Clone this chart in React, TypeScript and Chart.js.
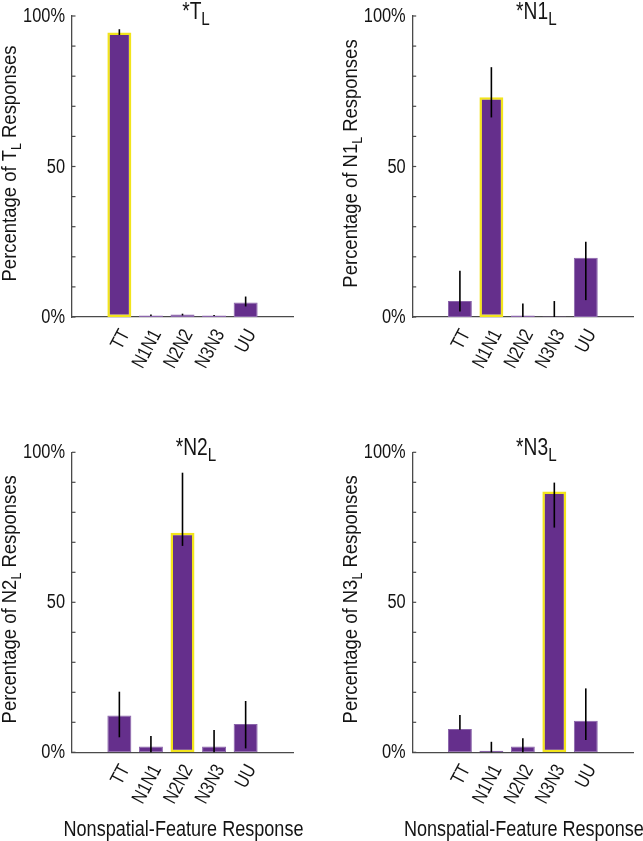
import React, { useEffect, useRef } from 'react';
import { Chart, registerables } from 'chart.js';

Chart.register(...registerables);

// ---------- data ----------
const categories = ['TT', 'N1N1', 'N2N2', 'N3N3', 'UU'];
const yTickValues = [0, 50, 100];
const yTickLabels = ['0%', '50', '100%'];
const xAxisTitle = 'Nonspatial-Feature Response';

// panel *T_L
const tValues = [94.5, 0.5, 0.8, 0.5, 4.8];
const tLow = [93.7, 0.3, 0.5, 0.3, 3.5];
const tHigh = [95.6, 0.8, 1.1, 0.7, 6.8];

// panel *N1_L
const n1Values = [5.3, 73.0, 0.5, 0.2, 19.7];
const n1Low = [1.8, 66.3, 0, 0, 5.6];
const n1High = [15.4, 83.0, 4.5, 5.3, 25.0];

// panel *N2_L
const n2Values = [12.3, 1.9, 73.2, 1.9, 9.4];
const n2Low = [5.0, 0, 68.8, 0, 1.3];
const n2High = [20.2, 5.4, 93.2, 7.4, 17.1];

// panel *N3_L
const n3Values = [7.8, 0.5, 1.9, 86.9, 10.5];
const n3Low = [7.5, 0, 0, 74.9, 4.1];
const n3High = [12.4, 3.5, 4.7, 89.9, 21.3];

const FONT = "'Liberation Sans', Arial, Helvetica, sans-serif";
const BAR_FILL = '#652f8c';
const BAR_EDGE = '#8a64aa';
const HILITE = '#f2e41c';
const AXIS = '#4a4a4a';
const TEXT = '#141414';

type Part = { t: string; sub?: boolean };

function drawParts(
  ctx: CanvasRenderingContext2D,
  parts: Part[],
  size: number,
  subSize: number,
  subShift: number,
  sx: number,
  cx: number,
  baseline: number
) {
  ctx.save();
  ctx.translate(cx, baseline);
  ctx.scale(sx, 1);
  let total = 0;
  for (const p of parts) {
    ctx.font = `${p.sub ? subSize : size}px ${FONT}`;
    total += ctx.measureText(p.t).width;
  }
  let x = -total / 2;
  ctx.textAlign = 'left';
  ctx.textBaseline = 'alphabetic';
  for (const p of parts) {
    ctx.font = `${p.sub ? subSize : size}px ${FONT}`;
    ctx.fillText(p.t, x, p.sub ? subShift : 0);
    x += ctx.measureText(p.t).width;
  }
  ctx.restore();
}

function drawLabel(
  ctx: CanvasRenderingContext2D,
  text: string,
  x: number,
  y: number,
  size: number,
  sx: number,
  align: CanvasTextAlign,
  rotDeg: number
) {
  ctx.save();
  ctx.translate(x, y);
  ctx.rotate((-rotDeg * Math.PI) / 180);
  ctx.scale(sx, 1);
  ctx.font = `${size}px ${FONT}`;
  ctx.textAlign = align;
  ctx.textBaseline = 'middle';
  ctx.fillText(text, 0, 0);
  ctx.restore();
}

type PanelProps = {
  target: string;
  values: number[];
  low: number[];
  high: number[];
  highlight: number;
  left: number;
  top: number;
  width: number;
  height: number;
  area: { left: number; right: number; top: number; bottom: number };
  showXTitle: boolean;
};

function Panel(props: PanelProps) {
  const ref = useRef<HTMLCanvasElement | null>(null);
  useEffect(() => {
    const canvas = ref.current!;
    const { values, low, high, highlight, area, width, height, target, showXTitle } = props;
    const labels = ['', ...categories, ''];
    const data = [null, ...values, null];
    const X_AXIS_H = 70;

    const overlay = {
      id: 'overlay',
      afterDatasetsDraw(chart: any) {
        const ctx: CanvasRenderingContext2D = chart.ctx;
        const ys = chart.scales.y;
        const meta = chart.getDatasetMeta(0);
        ctx.save();
        ctx.strokeStyle = '#000000';
        ctx.lineWidth = 1.6;
        values.forEach((_, i) => {
          const el = meta.data[i + 1];
          const y1 = ys.getPixelForValue(low[i]);
          const y2 = ys.getPixelForValue(high[i]);
          ctx.beginPath();
          ctx.moveTo(el.x, y1);
          ctx.lineTo(el.x, y2);
          ctx.stroke();
        });
        ctx.restore();
      },
      afterDraw(chart: any) {
        const ctx: CanvasRenderingContext2D = chart.ctx;
        const ys = chart.scales.y;
        const xs = chart.scales.x;
        const ca = chart.chartArea;
        ctx.save();
        // inward minor ticks
        ctx.strokeStyle = AXIS;
        ctx.lineWidth = 1.2;
        for (let v = 0; v <= 100; v += 10) {
          const y = ys.getPixelForValue(v);
          ctx.beginPath();
          ctx.moveTo(ca.left, y);
          ctx.lineTo(ca.left + 3.5, y);
          ctx.stroke();
        }
        ctx.fillStyle = TEXT;
        // y tick labels
        yTickValues.forEach((v, i) => {
          drawLabel(ctx, yTickLabels[i], ca.left - 7, ys.getPixelForValue(v) + 0.5, 20, 0.82, 'right', 0);
        });
        // x tick labels (rotated)
        categories.forEach((c, i) => {
          const x = xs.getPixelForValue(i + 1);
          drawLabel(ctx, c, x + 6, ca.bottom + 14, 19.5, 0.82, 'right', 62);
        });
        // panel title
        const cx = (ca.left + ca.right) / 2 + 13.5;
        drawParts(ctx, [{ t: '*' + target }, { t: 'L', sub: true }], 24, 19, 6, 0.8, cx, ca.top + 3);
        // y title (rotated)
        ctx.save();
        ctx.translate(ca.left - 56, (ca.top + ca.bottom) / 2 - 3);
        ctx.rotate(-Math.PI / 2);
        drawParts(
          ctx,
          [{ t: 'Percentage of ' + target }, { t: 'L', sub: true }, { t: ' Responses' }],
          21,
          14,
          5,
          0.88,
          0,
          0
        );
        ctx.restore();
        if (showXTitle) {
          drawParts(ctx, [{ t: xAxisTitle }], 21.5, 21.5, 0, 0.84, (ca.left + ca.right) / 2 + 1, ca.bottom + 83.5);
        }
        ctx.restore();
      },
    };

    const chart = new Chart(canvas, {
      type: 'bar',
      data: {
        labels,
        datasets: [
          {
            data: data as any,
            backgroundColor: BAR_FILL,
            borderColor: labels.map((_, i) => (i - 1 === highlight ? HILITE : BAR_EDGE)),
            borderWidth: labels.map((_, i) => (i - 1 === highlight ? 2.5 : 1)),
            borderSkipped: false,
            barPercentage: 0.76,
            categoryPercentage: 1,
          },
        ],
      },
      options: {
        responsive: false,
        animation: false,
        devicePixelRatio: 1,
        layout: {
          padding: {
            left: 0,
            top: area.top,
            right: width - area.right,
            bottom: height - area.bottom - X_AXIS_H,
          },
        },
        plugins: { legend: { display: false }, tooltip: { enabled: false }, title: { display: false } },
        scales: {
          x: {
            type: 'category',
            offset: true,
            grid: { display: false, drawTicks: false },
            border: { display: true, color: AXIS, width: 1.3 },
            ticks: { display: false, autoSkip: false },
            afterFit: (s: any) => {
              s.height = X_AXIS_H;
            },
          },
          y: {
            min: 0,
            max: 100,
            grid: { display: false, drawTicks: false },
            border: { display: true, color: AXIS, width: 1.3 },
            ticks: { display: false, stepSize: 10 },
            afterFit: (s: any) => {
              s.width = area.left;
            },
          },
        },
      },
      plugins: [overlay],
    });
    return () => chart.destroy();
  }, []);
  return (
    <canvas
      ref={ref}
      width={props.width}
      height={props.height}
      style={{ position: 'absolute', left: props.left, top: props.top, width: props.width, height: props.height }}
    />
  );
}

export default function App() {
  return (
    <div style={{ position: 'absolute', left: 0, top: 0, width: 643, height: 841, background: '#ffffff' }}>
      <Panel target="T" values={tValues} low={tLow} high={tHigh} highlight={0}
        left={0} top={0} width={321} height={420}
        area={{ left: 72, right: 293, top: 16, bottom: 317 }} showXTitle={false} />
      <Panel target="N1" values={n1Values} low={n1Low} high={n1High} highlight={1}
        left={321} top={0} width={322} height={420}
        area={{ left: 91.7, right: 312, top: 16, bottom: 317 }} showXTitle={false} />
      <Panel target="N2" values={n2Values} low={n2Low} high={n2High} highlight={2}
        left={0} top={420} width={321} height={421}
        area={{ left: 72, right: 293, top: 32.3, bottom: 332.3 }} showXTitle={true} />
      <Panel target="N3" values={n3Values} low={n3Low} high={n3High} highlight={3}
        left={321} top={420} width={322} height={421}
        area={{ left: 91.7, right: 312, top: 32.3, bottom: 332.3 }} showXTitle={true} />
    </div>
  );
}
